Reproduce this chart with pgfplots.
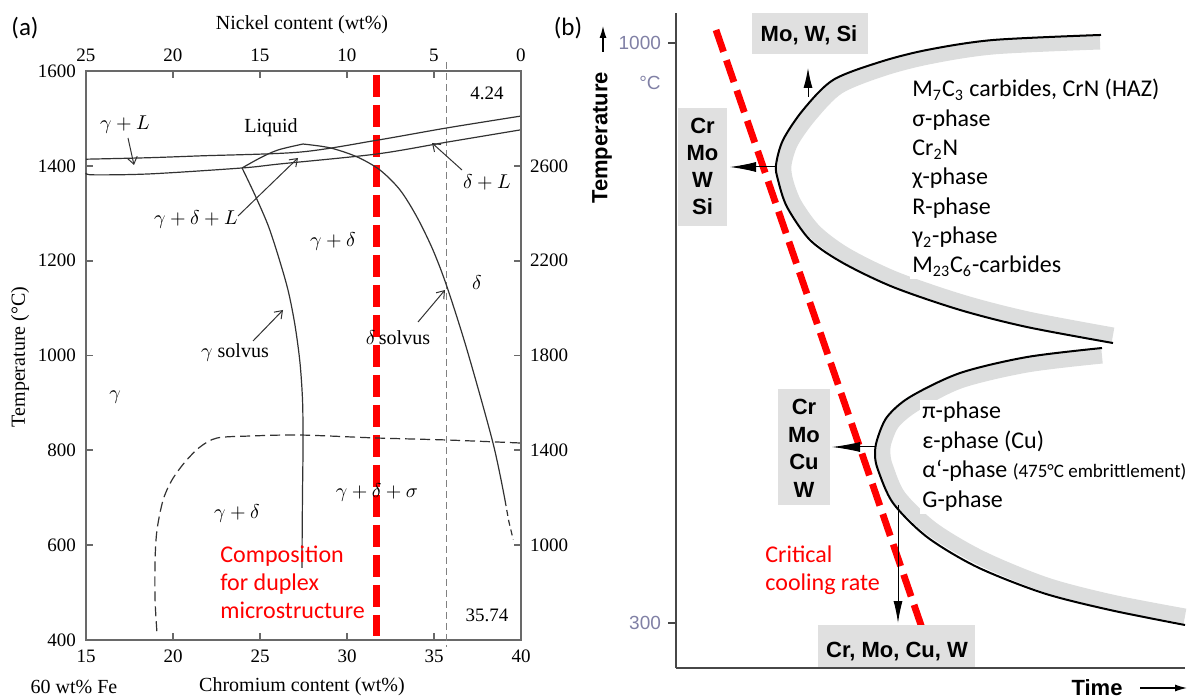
\documentclass[border=0pt]{standalone}
\usepackage{fontspec}
\setmainfont{Liberation Serif}
\newfontfamily\calibri{Carlito}
\newfontfamily\arial{Liberation Sans}
\usepackage{pgfplots}
\pgfplotsset{compat=1.18}
\usetikzlibrary{arrows.meta}
\definecolor{axgray}{RGB}{105,105,105}
\definecolor{crv}{RGB}{50,50,50}
\definecolor{boxgray}{RGB}{224,224,224}
\definecolor{bandgray}{RGB}{220,221,221}
\definecolor{tickblue}{RGB}{128,128,165}
\begin{document}
\begin{tikzpicture}
\path[use as bounding box] (0pt,0pt) rectangle (596.5pt,-349.5pt);
% ================= panel (a) =================
\begin{axis}[
  at={(43pt,-320pt)}, anchor=south west,
  width=217.5pt, height=284.5pt, scale only axis,
  xmin=15, xmax=40, ymin=400, ymax=1600,
  clip=false,
  axis line style={axgray, line width=0.9pt},
  tick style={axgray, line width=0.9pt},
  tick align=inside, major tick length=3.5pt,
  xtick={15,20,...,40}, ytick={400,600,...,1600},
  xtick pos=left, ytick pos=left,
  xticklabel style={yshift=-1.5pt},
  yticklabel style={xshift=-1.5pt},
  ticklabel style={font=\fontsize{9.5}{11}\selectfont},
  /pgf/number format/assume math mode=true,
  /pgf/number format/1000 sep={},
]
% red composition line
\addplot[red, line width=3.5pt, dash pattern=on 11pt off 4pt] coordinates {(31.67,1592) (31.67,408)};
% gray dashed composition line
\addplot[black!50, line width=0.6pt, dash pattern=on 3.5pt off 2pt] coordinates {(35.74,1619) (35.74,385)};
% liquidus
\addplot[crv, line width=0.6pt, smooth] coordinates {(15,1414) (18.5,1417) (21.55,1421) (27.3,1429) (31.72,1454) (35.75,1480) (40,1505)};
% solidus
\addplot[crv, line width=0.6pt, smooth] coordinates {(15,1385) (15.4,1381) (18.68,1383) (23.97,1395.5) (26.15,1404) (31.72,1425) (35.75,1450) (40,1476)};
% loop to peak
\addplot[crv, line width=0.6pt, smooth] coordinates {(23.97,1395.5) (25.0,1416.5) (26.03,1433.4) (27.47,1446)};
% delta solvus
\addplot[crv, line width=0.6pt, smooth] coordinates {(27.47,1446) (29.02,1438) (30.57,1419) (31.90,1391) (33.05,1349) (34.02,1292) (34.94,1222.5) (35.75,1144.5) (36.90,1011.6) (38.39,815.5) (39.08,695)};
\addplot[crv, line width=0.6pt, dash pattern=on 3pt off 2pt] coordinates {(39.08,695) (39.3,650) (39.55,612)};
% gamma solvus
\addplot[crv, line width=0.6pt, smooth] coordinates {(23.97,1395.5) (24.71,1338.5) (25.46,1275) (26.03,1212) (26.61,1138) (27.01,1064) (27.30,984) (27.45,900) (27.47,800) (27.44,700) (27.41,552)};
% sigma boundary
\addplot[crv, line width=0.6pt, dash pattern=on 5pt off 2.5pt, smooth] coordinates {(39.94,815.5) (35.75,821.8) (31.72,826) (27.3,832.3) (24.43,830.2) (22.53,826) (21.55,807) (20.69,775.4) (19.94,737.4) (19.43,695.3) (19.08,632) (18.97,568.7) (18.97,484.4) (19.08,414.8)};
\end{axis}
\begin{axis}[
  at={(43pt,-320pt)}, anchor=south west,
  width=217.5pt, height=284.5pt, scale only axis,
  xmin=0, xmax=25, x dir=reverse, ymin=400, ymax=1600,
  axis x line*=top, axis y line*=right,
  axis line style={axgray, line width=0.9pt},
  tick style={axgray, line width=0.9pt},
  tick align=inside, major tick length=3.5pt,
  xtick={0,5,...,25}, ytick={600,800,...,1400},
  yticklabels={1000,1400,1800,2200,2600},
  xticklabel style={yshift=1pt},
  yticklabel style={xshift=1pt},
  ticklabel style={font=\fontsize{9.5}{11}\selectfont},
  /pgf/number format/assume math mode=true,
  /pgf/number format/1000 sep={},
]
\end{axis}
% ================= panel (b) =================
\begin{axis}[
  at={(338pt,-334pt)}, anchor=south west,
  width=254.5pt, height=327.5pt, scale only axis,
  xmin=0, xmax=509, ymin=245.7, ymax=1036.2,
  axis x line*=bottom, axis y line*=left,
  axis line style={black!72, line width=0.8pt},
  xtick=\empty, ytick={300,1000},
  tick align=outside, major tick length=4pt,
  tick style={black!72, line width=0.8pt},
  yticklabel style={font=\arial\fontsize{9.5}{11}\selectfont, text=tickblue},
  /pgf/number format/assume math mode=true,
  /pgf/number format/1000 sep={},
  clip=false,
]
% gray bands
\addplot[bandgray, line width=7.5pt, smooth] coordinates {(424,1001.2) (317,995.2) (252,983.1) (206,968.6) (162,946.9) (134,913.1) (115,880.5) (108,852.8) (110,832.2) (119,804.5) (139,771.9) (170,744.1) (219,715.2) (286,687.4) (352,666.9) (437,647.6)};
\addplot[bandgray, line width=7.5pt, smooth] coordinates {(426,622.2) (351,611.4) (284,592.1) (239,564.3) (217,542.6) (208,518.5) (207,502.8) (210,487.1) (223,452.1) (256,413.5) (305,378.4) (370,346.1) (436,325.3) (509,308.4)};
% C-curves
\addplot[black, line width=1pt, smooth] coordinates {(425,1009.7) (317,1003.6) (251,991.6) (204,977.1) (157,955.3) (127,919.1) (107,882.9) (100,852.8) (102,834.7) (111,802.1) (134,762.2) (167,734.5) (217,705.5) (284,677.8) (351,657.2) (437,637.9)};
\addplot[black, line width=1pt, smooth] coordinates {(426,631.9) (351,621.0) (284,601.7) (234,572.8) (211,548.6) (201,520.9) (199,502.8) (202,484.7) (217,444.8) (251,403.8) (301,367.6) (367,336.2) (434,315.7) (509,297.6)};
% critical cooling rate
\addplot[red, line width=3.4pt, dash pattern=on 11.5pt off 4.5pt] coordinates {(40,1015.7) (246,294)};
\end{axis}
% ================= annotations (pixel coordinates) =================
\begin{scope}[x=0.5pt,y=-0.5pt]
% ---- panel (a) texts
\node[font=\calibri\fontsize{12.5}{14}\selectfont] at (25,28) {(a)};
\node[font=\fontsize{10}{12}\selectfont] at (302,25) {Nickel content (wt\%)};
\node[font=\fontsize{10}{12}\selectfont] at (302,687) {Chromium content (wt\%)};
\node[font=\fontsize{10}{12}\selectfont] at (74,687) {60 wt\% Fe};
\node[font=\fontsize{10}{12}\selectfont, rotate=90] at (20,357) {Temperature (°C)};
\node[font=\fontsize{9.5}{11}\selectfont] at (487,93) {4.24};
\node[font=\fontsize{9.5}{11}\selectfont] at (487,615) {35.74};
\begin{scope}[font=\fontsize{10}{12}\selectfont]
\node at (125,125) {$\gamma+L$};
\node at (271,128) {Liquid};
\node at (196,220) {$\gamma+\delta+L$};
\node at (487,182) {$\delta+L$};
\node at (333,242) {$\gamma+\delta$};
\node at (477,283) {$\delta$};
\node at (398,338) {$\delta$\,solvus};
\node at (235,353) {$\gamma$ solvus};
\node at (115,397) {$\gamma$};
\node at (377,493) {$\gamma+\delta+\sigma$};
\node at (237,513) {$\gamma+\delta$};
\end{scope}
\begin{scope}[crv, line width=0.5pt, -{Straight Barb[length=3.5pt,width=5pt]}]
\draw (128,138) -- (134,165);
\draw (238,216) -- (298,158);
\draw (462,170) -- (432,143);
\draw (418,322) -- (445,290);
\draw (253,341) -- (283,310);
\end{scope}
\begin{scope}[red, font=\calibri\fontsize{12}{14}\selectfont]
\node[anchor=base west, inner sep=0pt] at (220,562) {Composition};
\node[anchor=base west, inner sep=0pt] at (220,590) {for duplex};
\node[anchor=base west, inner sep=0pt] at (220,618) {microstructure};
\end{scope}
% ---- panel (b) texts
\node[font=\calibri\fontsize{12.5}{14}\selectfont] at (568,28) {(b)};
\node[font=\arial\bfseries\fontsize{11}{13}\selectfont, rotate=90] at (602,138) {Temperature};
\draw[black, line width=0.6pt, -{Latex[length=6pt,width=3.5pt]}] (603,52) -- (603,26);
\node[font=\arial\fontsize{9.5}{11}\selectfont, text=tickblue] at (650,83) {°C};
\node[font=\arial\bfseries\fontsize{11}{13}\selectfont] at (1097,688) {Time};
\draw[black, line width=0.6pt, -{Latex[length=6pt,width=3.5pt]}] (1140,688) -- (1187,688);
% boxes
\fill[boxgray] (752,13) rectangle (868,54);
\fill[boxgray] (678,108) rectangle (727,226);
\fill[boxgray] (778,389) rectangle (830,505);
\fill[boxgray] (818,625) rectangle (975,667);
\begin{scope}[font=\arial\bfseries\fontsize{11}{13}\selectfont, inner sep=0pt]
\node[anchor=base] at (809,42) {Mo, W, Si};
\node[anchor=base] at (702.5,134) {Cr};
\node[anchor=base] at (702.5,161) {Mo};
\node[anchor=base] at (702.5,188) {W};
\node[anchor=base] at (702.5,215) {Si};
\node[anchor=base] at (804,415) {Cr};
\node[anchor=base] at (804,443) {Mo};
\node[anchor=base] at (804,470) {Cu};
\node[anchor=base] at (804,497) {W};
\node[anchor=base] at (897,657) {Cr, Mo, Cu, W};
\end{scope}
% arrows
\begin{scope}[black, line width=0.5pt]
\draw[-{Latex[length=10pt,width=4.5pt]}] (808,97) -- (808,68);
\draw[-{Latex[length=13pt,width=5pt]}] (776,167) -- (730,167);
\draw[-{Latex[length=14pt,width=5pt]}] (875,447) -- (832,447);
\draw[-{Latex[length=11pt,width=4.5pt]}] (898,505) -- (898,623);
\end{scope}
% phase lists
\begin{scope}[font=\calibri\fontsize{12}{14}\selectfont]
\node[anchor=base west, fill=white, inner sep=1pt] at (910,97) {M\textsubscript{7}C\textsubscript{3} carbides, CrN (HAZ)};
\node[anchor=base west, fill=white, inner sep=1pt] at (910,126.3) {σ-phase};
\node[anchor=base west, fill=white, inner sep=1pt] at (910,155.6) {Cr\textsubscript{2}N};
\node[anchor=base west, fill=white, inner sep=1pt] at (910,184.9) {χ-phase};
\node[anchor=base west, fill=white, inner sep=1pt] at (910,214.2) {R-phase};
\node[anchor=base west, fill=white, inner sep=1pt] at (910,243.5) {γ\textsubscript{2}-phase};
\node[anchor=base west, fill=white, inner sep=1pt] at (910,272.8) {M\textsubscript{23}C\textsubscript{6}-carbides};
\node[anchor=base west, fill=white, inner sep=1pt] at (920,419) {π-phase};
\node[anchor=base west, fill=white, inner sep=1pt] at (920,449) {ε-phase (Cu)};
\node[anchor=base west, fill=white, inner sep=1pt] at (920,478) {α‘-phase {\fontsize{9.5}{11}\selectfont(475°C embrittlement)}};
\node[anchor=base west, fill=white, inner sep=1pt] at (920,508) {G-phase};
\end{scope}
\begin{scope}[red, font=\calibri\fontsize{12}{14}\selectfont]
\node[anchor=base west, inner sep=0pt] at (765,562) {Critical};
\node[anchor=base west, inner sep=0pt] at (765,590) {cooling rate};
\end{scope}
\end{scope}
\end{tikzpicture}
\end{document}
